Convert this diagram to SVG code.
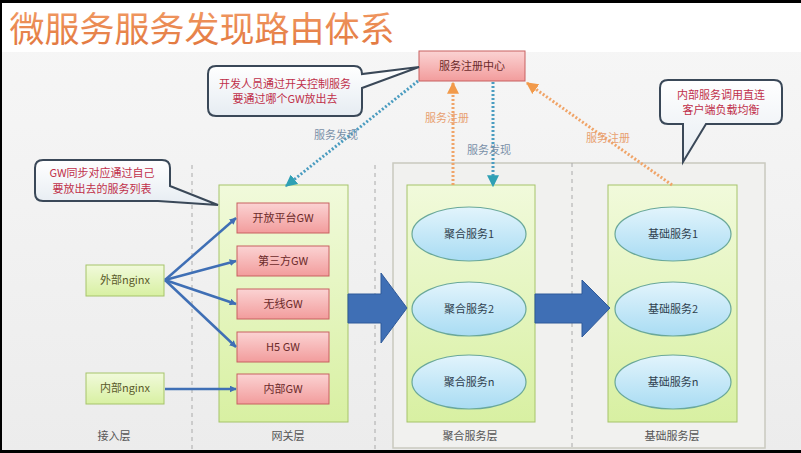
<svg xmlns="http://www.w3.org/2000/svg" width="801" height="453" viewBox="0 0 801 453">
<defs>
<linearGradient id="bg" x1="0" y1="0" x2="0" y2="1"><stop offset="0" stop-color="#f7f7f7"/><stop offset="1" stop-color="#ececec"/></linearGradient>
<linearGradient id="title" x1="0" y1="0" x2="0" y2="1"><stop offset="0" stop-color="#f4a06a"/><stop offset="1" stop-color="#e0733a"/></linearGradient>
<linearGradient id="pink" x1="0" y1="0" x2="0" y2="1"><stop offset="0" stop-color="#fbd3d3"/><stop offset="1" stop-color="#f29c9c"/></linearGradient>
<linearGradient id="green" x1="0" y1="0" x2="0" y2="1"><stop offset="0" stop-color="#f1fadb"/><stop offset="1" stop-color="#d8f0a2"/></linearGradient>
<linearGradient id="blue" x1="0" y1="0" x2="0" y2="1"><stop offset="0" stop-color="#e2f4fc"/><stop offset="1" stop-color="#a9dcf3"/></linearGradient>
<linearGradient id="callout" x1="0" y1="0" x2="0" y2="1"><stop offset="0" stop-color="#ffffff"/><stop offset="1" stop-color="#e6ecf2"/></linearGradient>
<marker id="ab" viewBox="0 0 10 10" refX="9" refY="5" markerWidth="7" markerHeight="7" orient="auto" markerUnits="userSpaceOnUse"><path d="M0,0 L10,5 L0,10 Z" fill="#3f6fb5"/></marker>
<marker id="ao" viewBox="0 0 10 10" refX="9" refY="5" markerWidth="12" markerHeight="12" orient="auto" markerUnits="userSpaceOnUse"><path d="M0,0 L10,5 L0,10 Z" fill="#f29a4a"/></marker>
<marker id="at" viewBox="0 0 10 10" refX="9" refY="5" markerWidth="12" markerHeight="12" orient="auto" markerUnits="userSpaceOnUse"><path d="M0,0 L10,5 L0,10 Z" fill="#2fa0b4"/></marker>
</defs>
<style>
text{font-family:"Noto Sans CJK SC","Noto Sans",sans-serif;text-anchor:middle;}
.t{font-size:11px;fill:#6b2a2a;}
.c{font-size:11px;fill:#c0304a;}
.g{font-size:11px;fill:#5a5a2a;}
.e{font-size:11px;fill:#2f3f4f;}
.lay{font-size:11px;fill:#555;}
.pk{fill:url(#pink);stroke:#c86060;stroke-width:1;}
.gr{fill:url(#green);stroke:#a6c46a;stroke-width:1;}
.el{fill:url(#blue);stroke:#6aa89a;stroke-width:1.2;}
.co{fill:url(#callout);stroke:#3a4858;stroke-width:2;}
.dv{stroke:#aaa;stroke-width:1;stroke-dasharray:4 4;fill:none;}
.bl{stroke:#3f6fb5;stroke-width:2.5;fill:none;marker-end:url(#ab);}
.do{stroke:#f0a468;stroke-width:3;stroke-dasharray:2 2;fill:none;marker-end:url(#ao);}
.dt{stroke:#4a9cc0;stroke-width:3;stroke-dasharray:2 2;fill:none;marker-end:url(#at);}
.lo{font-size:11px;fill:#e8a070;}
.lt{font-size:11px;fill:#7a90a8;}
.big{fill:#3f6fb5;stroke:#2f5a9a;stroke-width:1;}
</style>
<rect x="0" y="0" width="801" height="453" fill="url(#bg)"/>
<rect x="0" y="0" width="801" height="52" fill="#ffffff"/>
<rect x="0" y="0" width="801" height="3" fill="#000"/>
<rect x="0" y="0" width="2" height="453" fill="#000"/>
<rect x="0" y="450" width="801" height="3" fill="#000"/>
<text x="202" y="42" style="font-size:35px;fill:url(#title);">微服务服务发现路由体系</text>

<g id="dividers">
<line class="dv" x1="192" y1="165" x2="192" y2="450"/>
<line class="dv" x1="375" y1="165" x2="375" y2="450"/>
</g>

<g id="service-area">
<rect x="393" y="163" width="372" height="285" fill="#f1f1ef" stroke="#c9c9bf" stroke-width="1.5"/>
<line class="dv" x1="572" y1="163" x2="572" y2="448"/>
</g>

<g id="gateway-layer"><rect class="gr" x="219" y="185" width="129" height="237"/><text class="lay" x="288" y="440">网关层</text></g>
<g id="aggregate-layer"><rect class="gr" x="407" y="185" width="128" height="237"/><text class="lay" x="470" y="440">聚合服务层</text></g>
<g id="base-layer"><rect class="gr" x="608" y="185" width="129" height="237"/><text class="lay" x="672" y="440">基础服务层</text></g>
<g id="access-layer-label"><text class="lay" x="114" y="440">接入层</text></g>

<g id="registry"><rect class="pk" x="419" y="51" width="106" height="30"/><text class="t" x="472" y="70">服务注册中心</text></g>

<g id="callout-dev"><path class="co" d="M216,66 H354 Q362,66 362,74 L419,67 L362,88 V108 Q362,116 354,116 H216 Q208,116 208,108 V74 Q208,66 216,66 Z"/><text class="c" x="285" y="88">开发人员通过开关控制服务</text><text class="c" x="285" y="103">要通过哪个GW放出去</text></g>
<g id="callout-internal"><path class="co" d="M668,80 H774 Q782,80 782,88 V116 Q782,124 774,124 H706 L683,162 L683,124 H668 Q660,124 660,116 V88 Q660,80 668,80 Z"/><text class="c" x="721" y="99">内部服务调用直连</text><text class="c" x="721" y="114">客户端负载均衡</text></g>
<g id="callout-gw"><path class="co" d="M43,160 H162 Q170,160 170,168 V186 L218,205 L158,201 H43 Q35,201 35,193 V168 Q35,160 43,160 Z"/><text class="c" x="102" y="177">GW同步对应通过自己</text><text class="c" x="102" y="193">要放出去的服务列表</text></g>

<g id="ext-nginx"><rect class="gr" x="86" y="265" width="78" height="31"/><text class="g" x="125" y="284">外部nginx</text></g>
<g id="int-nginx"><rect class="gr" x="86" y="373" width="78" height="31"/><text class="g" x="125" y="392">内部nginx</text></g>

<g id="gw-open"><rect class="pk" x="237" y="203" width="92" height="30"/><text class="t" x="283" y="222">开放平台GW</text></g>
<g id="gw-third"><rect class="pk" x="237" y="246" width="92" height="30"/><text class="t" x="283" y="265">第三方GW</text></g>
<g id="gw-wireless"><rect class="pk" x="237" y="289" width="92" height="30"/><text class="t" x="283" y="308">无线GW</text></g>
<g id="gw-h5"><rect class="pk" x="237" y="332" width="92" height="30"/><text class="t" x="283" y="351">H5 GW</text></g>
<g id="gw-internal"><rect class="pk" x="237" y="374" width="92" height="30"/><text class="t" x="283" y="393">内部GW</text></g>

<g id="agg1"><ellipse class="el" cx="469" cy="234" rx="57" ry="27"/><text class="e" x="469" y="238">聚合服务1</text></g>
<g id="agg2"><ellipse class="el" cx="469" cy="309" rx="57" ry="27"/><text class="e" x="469" y="313">聚合服务2</text></g>
<g id="aggn"><ellipse class="el" cx="469" cy="382" rx="57" ry="27"/><text class="e" x="469" y="386">聚合服务n</text></g>
<g id="base1"><ellipse class="el" cx="673" cy="234" rx="58" ry="27"/><text class="e" x="673" y="238">基础服务1</text></g>
<g id="base2"><ellipse class="el" cx="673" cy="309" rx="58" ry="27"/><text class="e" x="673" y="313">基础服务2</text></g>
<g id="basen"><ellipse class="el" cx="673" cy="382" rx="58" ry="27"/><text class="e" x="673" y="386">基础服务n</text></g>

<g id="connectors">
<line class="bl" x1="165" y1="280" x2="236" y2="218"/>
<line class="bl" x1="165" y1="280" x2="236" y2="261"/>
<line class="bl" x1="165" y1="280" x2="236" y2="304"/>
<line class="bl" x1="165" y1="280" x2="236" y2="347"/>
<line class="bl" x1="165" y1="389" x2="236" y2="389"/>
<path class="big" d="M348,294 H381 V273 L407,308 L381,343 V323 H348 Z"/>
<path class="big" d="M535,294 H582 V280 L610,308 L582,337 V323 H535 Z"/>
<line class="dt" x1="418" y1="81" x2="286" y2="186"/>
<line class="do" x1="453" y1="185" x2="453" y2="83"/>
<line class="dt" x1="493" y1="82" x2="493" y2="186"/>
<line class="do" x1="672" y1="185" x2="527" y2="83"/>
<text class="lt" x="336" y="139">服务发现</text>
<text class="lo" x="447" y="122">服务注册</text>
<text class="lt" x="489" y="154">服务发现</text>
<text class="lo" x="608" y="142">服务注册</text>
</g>
</svg>
